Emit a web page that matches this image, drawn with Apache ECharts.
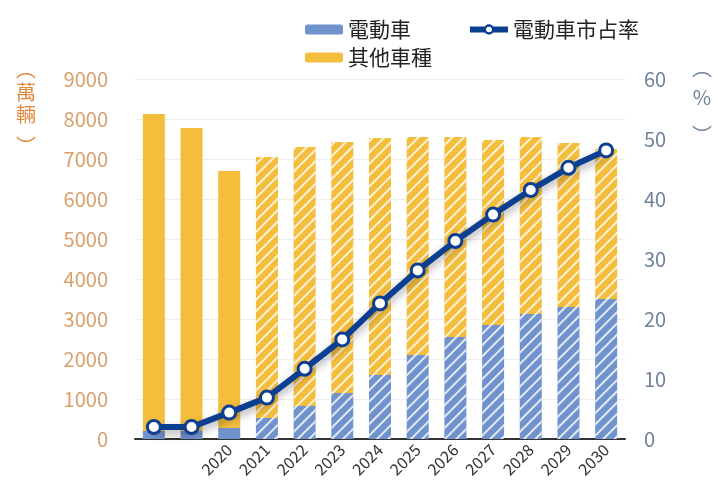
<!DOCTYPE html>
<html>
<head>
<meta charset="utf-8">
<script src="https://cdn.jsdelivr.net/npm/echarts@6/dist/echarts.min.js"></script>
<style>
    html, body { margin: 0; padding: 0; background: #ffffff; }
    #chart { width: 718px; height: 494px; }
</style>
</head>
<body>
<div id="chart"></div>
<script>
var years = ['2018', '2019', '2020', '2021', '2022', '2023', '2024', '2025', '2026', '2027', '2028', '2029', '2030'];
var evSales = [200, 200, 275, 525, 825, 1150, 1600, 2100, 2550, 2850, 3125, 3300, 3500];
var otherSales = [7925, 7575, 6425, 6525, 6475, 6275, 5925, 5450, 5000, 4625, 4425, 4100, 3750];
var evShare = [2.0, 2.0, 4.4, 6.9, 11.7, 16.6, 22.6, 28.1, 33.0, 37.4, 41.5, 45.2, 48.1];
var firstForecast = 3; // 2021 起為預測值(斜線)

(function () {
    var myChart = echarts.init(document.getElementById('chart'));

    var hatch = {
        symbol: 'rect',
        symbolSize: 1,
        dashArrayX: [[1, 0]],
        dashArrayY: [2, 6],
        rotation: -Math.PI / 4,
        color: 'rgba(255,255,255,0.8)'
    };

    function withHatch(arr) {
        return arr.map(function (v, i) {
            if (i < firstForecast) return v;
            return { value: v, itemStyle: { decal: hatch } };
        });
    }

    function unitText(x, y, text, color) {
        return {
            type: 'text', x: x, y: y,
            style: { text: text, fill: color, fontSize: 20, lineHeight: 22, align: 'center', fontFamily: 'Noto Sans CJK TC' }
        };
    }

    var option = {
        backgroundColor: '#ffffff',
        animation: false,
        aria: { enabled: true, decal: { show: true, decals: [{ symbol: 'none' }] } },
        textStyle: { fontFamily: 'Noto Sans CJK TC, Noto Sans, sans-serif' },
        legend: [{
            left: 300,
            top: 14,
            itemWidth: 38,
            itemHeight: 10,
            itemGap: 56,
            data: ['電動車', '電動車市占率'],
            lineStyle: { width: 6 },
            textStyle: { color: '#222', fontSize: 21 }
        }, {
            left: 300,
            top: 42,
            itemWidth: 38,
            itemHeight: 10,
            data: ['其他車種'],
            textStyle: { color: '#222', fontSize: 21 }
        }],
        grid: {
            left: 135,
            right: 93,
            top: 79,
            bottom: 55
        },
        xAxis: {
            type: 'category',
            data: years,
            axisLine: { lineStyle: { color: '#333', width: 2 } },
            axisTick: {
                alignWithLabel: true,
                length: 10,
                lineStyle: { color: '#333', width: 2 },
                interval: function (i) { return i >= 2; }
            },
            axisLabel: {
                rotate: 45,
                color: '#333',
                fontSize: 16,
                margin: 8,
                interval: function (i) { return i >= 2; }
            }
        },
        yAxis: [{
            type: 'value',
            min: 0,
            max: 9000,
            interval: 1000,
            axisLine: { show: false },
            axisTick: { show: false },
            axisLabel: {
                color: '#d9a06b',
                fontSize: 20,
                margin: 27,
                formatter: function (v) { return String(v); }
            },
            splitLine: { lineStyle: { color: '#eeeeee' } }
        }, {
            type: 'value',
            min: 0,
            max: 60,
            interval: 10,
            axisLine: { show: false },
            axisTick: { show: false },
            axisLabel: { color: '#6f819b', fontSize: 20, margin: 19 },
            splitLine: { show: false }
        }],
        graphic: [
            // 左軸單位 (萬輛)
            unitText(26, 58, '︵', '#e08a3c'),
            unitText(26, 81, '萬\n輛', '#e08a3c'),
            unitText(26, 135, '︶', '#e08a3c'),
            // 右軸單位 (%)
            unitText(702, 57, '︵', '#6f819b'),
            unitText(702, 86, '%', '#6f819b'),
            unitText(702, 124, '︶', '#6f819b')
        ],
        series: [{
            name: '電動車',
            type: 'bar',
            stack: 'total',
            barWidth: 22,
            itemStyle: { color: '#7092cd' },
            data: withHatch(evSales)
        }, {
            name: '其他車種',
            type: 'bar',
            stack: 'total',
            barWidth: 22,
            itemStyle: { color: '#f4bd3c' },
            data: withHatch(otherSales)
        }, {
            name: '電動車市占率',
            type: 'line',
            yAxisIndex: 1,
            symbol: 'circle',
            symbolSize: 13,
            z: 5,
            lineStyle: {
                color: '#0c3f92',
                width: 6,
                shadowColor: 'rgba(0,0,0,0.35)',
                shadowBlur: 8,
                shadowOffsetY: 4
            },
            itemStyle: {
                color: '#ffffff',
                borderColor: '#0c3f92',
                borderWidth: 3
            },
            data: evShare
        }]
    };

    myChart.setOption(option);
    window.addEventListener('resize', function () {
        myChart.resize();
    });
})();
</script>
</body>
</html>
